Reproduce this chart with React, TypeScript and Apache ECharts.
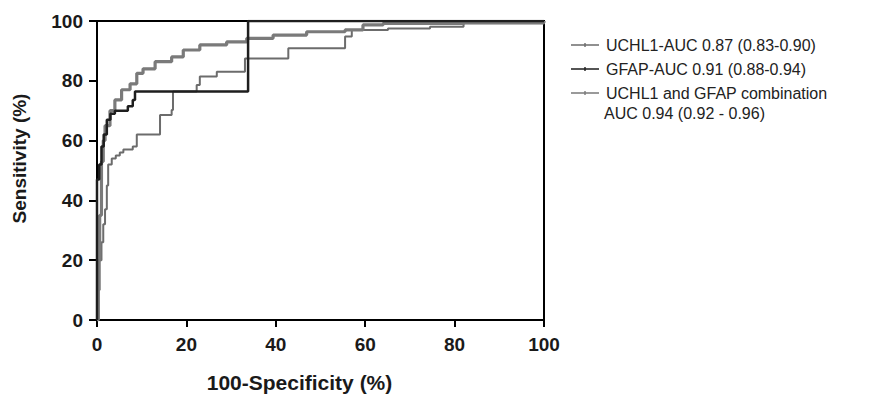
import React, { useEffect, useRef } from "react";
import * as echarts from "echarts";

const xTicks = [0, 20, 40, 60, 80, 100];
const yTicks = [0, 20, 40, 60, 80, 100];

const seriesNames = [
  "UCHL1-AUC 0.87 (0.83-0.90)",
  "GFAP-AUC 0.91 (0.88-0.94)",
  "UCHL1 and GFAP combination",
];
const combinationSecondLine = "AUC 0.94 (0.92 - 0.96)";

// ROC points (100-specificity, sensitivity); step rises at x to y
const uchl1Points: [number, number][] = [
  [0, 0], [0.3, 10], [0.6, 20], [1, 26], [1.4, 32], [1.8, 37], [2.2, 45], [2.5, 52],
  [3.3, 54], [4.2, 55], [5.1, 56], [5.9, 57], [8, 58], [8.9, 62], [14.1, 68.6],
  [16.7, 70.2], [17, 76.4], [22.3, 78.6], [23, 81.4], [26.8, 83], [33.1, 87.5],
  [42.8, 90.9], [55.5, 94.8], [57, 97], [65.1, 97.5], [74.5, 98.1], [82, 99.2],
  [100, 100],
];
const gfapPoints: [number, number][] = [
  [0, 0], [0, 47], [0.5, 52], [1, 58], [1.5, 62], [2.2, 67], [3, 69], [4, 70],
  [6.9, 71.5], [8, 73.6], [8.5, 76.4], [33.8, 100], [100, 100],
];
const comboPoints: [number, number][] = [
  [0, 0], [0.3, 20], [0.6, 35], [1, 53], [1.4, 60], [1.8, 65], [2.9, 70], [4, 73.6],
  [5.5, 77], [7.4, 79], [8.9, 82.5], [10.3, 84], [13, 86.4], [16.7, 88], [19.3, 90.3],
  [23, 92], [29, 93], [33.5, 94.2], [39.4, 95.3], [46.9, 96.4], [55.5, 97],
  [59.5, 98.7], [64, 99.2], [82, 99.5], [100, 100],
];

const colors = ["#6c6c6c", "#1e1e1e", "#7a7a7a"];
const widths = [2, 2.5, 3.2];

export default function App() {
  const ref = useRef<HTMLDivElement>(null);
  useEffect(() => {
    if (!ref.current) return;
    const chart = echarts.init(ref.current, undefined, { renderer: "svg" });
    const font = "'Liberation Sans', Arial, sans-serif";
    const data = [uchl1Points, gfapPoints, comboPoints];
    chart.setOption({
      animation: false,
      textStyle: { fontFamily: font },
      grid: {
        left: 97, top: 21, width: 447, height: 299,
        outerBoundsMode: "none",
        containLabel: false,
        show: true, borderColor: "#000", borderWidth: 2, backgroundColor: "transparent",
      },
      legend: {
        orient: "vertical",
        left: 566,
        top: 32,
        itemGap: 8,
        itemWidth: 28,
        itemHeight: 8,
        data: seriesNames.map((n, i) => ({
          name: n,
          icon: "path://M0,3.3 L28,3.3 L28,4.7 L0,4.7 Z M13.3,2 L14.7,2 L14.7,6 L13.3,6 Z",
          itemStyle: { color: colors[i] },
        })),
        textStyle: { fontFamily: font, fontSize: 16, color: "#222", padding: [0, 0, 0, 2] },
      },
      graphic: [
        {
          type: "text",
          left: 604,
          top: 105,
          style: { text: combinationSecondLine, font: `16px ${font}`, fill: "#222" },
        },
      ],
      xAxis: {
        type: "value",
        min: 0,
        max: 100,
        interval: 20,
        name: "100-Specificity (%)",
        nameLocation: "middle",
        nameGap: 52,
        nameTextStyle: {
          fontFamily: font, fontSize: 21, fontWeight: "bold", color: "#1a1a1a",
          padding: [0, 42, 0, 0],
        },
        axisLine: { show: true, lineStyle: { color: "#000", width: 2 } },
        axisTick: { show: true, length: 7, lineStyle: { color: "#000", width: 2 } },
        axisLabel: {
          fontFamily: font, fontSize: 19, fontWeight: "bold", color: "#1a1a1a", margin: 15,
          formatter: (v: number) => (xTicks.includes(v) ? String(v) : ""),
        },
        splitLine: { show: false },
      },
      yAxis: {
        type: "value",
        min: 0,
        max: 100,
        interval: 20,
        name: "Sensitivity (%)",
        nameLocation: "middle",
        nameGap: 68,
        nameTextStyle: {
          fontFamily: font, fontSize: 19, fontWeight: "bold", color: "#1a1a1a",
          padding: [0, 0, 0, 24],
        },
        axisLine: { show: true, lineStyle: { color: "#000", width: 2 } },
        axisTick: { show: true, length: 8, lineStyle: { color: "#000", width: 2 } },
        axisLabel: {
          fontFamily: font, fontSize: 19, fontWeight: "bold", color: "#1a1a1a", margin: 14,
          formatter: (v: number) => (yTicks.includes(v) ? String(v) : ""),
        },
        splitLine: { show: false },
      },
      series: seriesNames.map((n, i) => ({
        name: n,
        type: "line",
        step: "end",
        data: data[i],
        showSymbol: false,
        symbol: "none",
        lineStyle: { color: colors[i], width: widths[i] },
        itemStyle: { color: colors[i] },
        z: i === 1 ? 4 : 3,
      })),
    });
    return () => chart.dispose();
  }, []);
  return (
    <div
      ref={ref}
      style={{ position: "absolute", left: 0, top: 0, width: 876, height: 396, background: "#fff" }}
    />
  );
}
